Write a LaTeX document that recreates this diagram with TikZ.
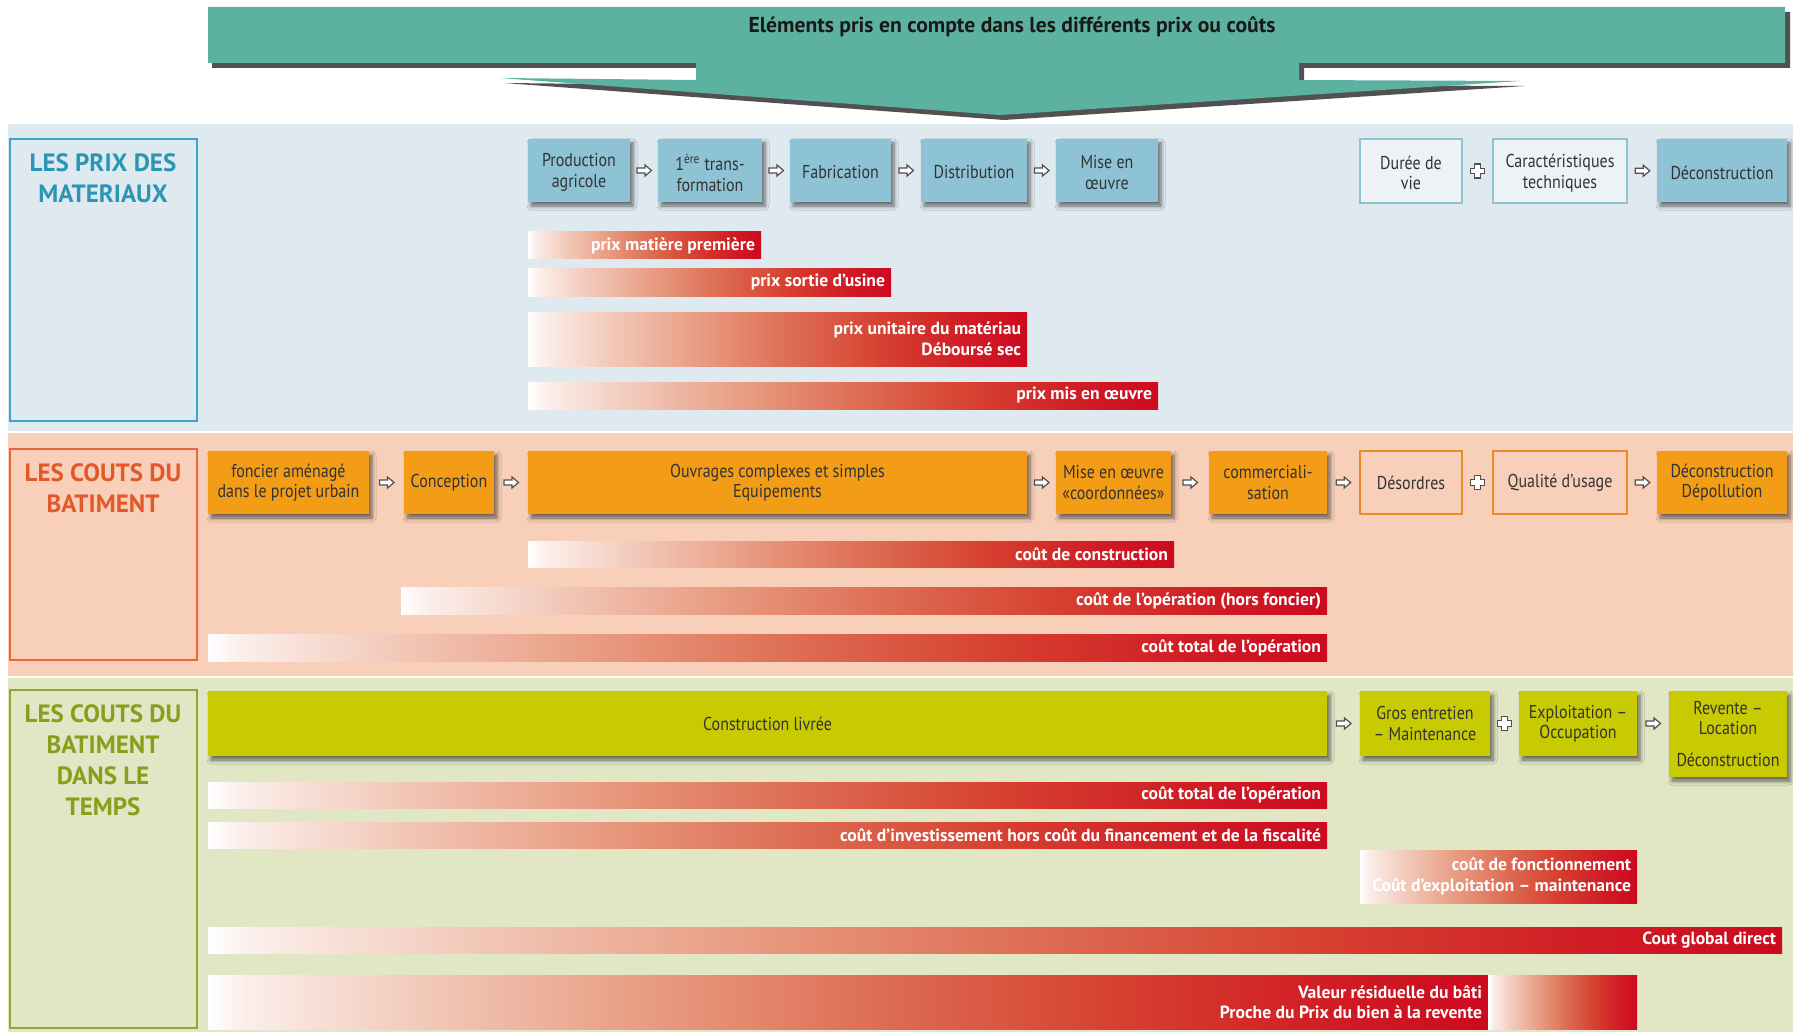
\documentclass[tikz,border=0pt]{standalone}
\usepackage{fontspec}
\setmainfont[FakeStretch=0.86]{PT Sans}
\newfontfamily\widefont{PT Sans}
\usetikzlibrary{fit,calc,shadows.blur}

\definecolor{bannerteal}{HTML}{5DB1A1}
\definecolor{matbg}{HTML}{DFE9F0}
\definecolor{batbg}{HTML}{F8D0B9}
\definecolor{tpsbg}{HTML}{E1E6C5}
\definecolor{matblue}{HTML}{8EC3D6}
\definecolor{matline}{HTML}{3FA6C2}
\definecolor{mattext}{HTML}{2B96B3}
\definecolor{batorange}{HTML}{F39C15}
\definecolor{batline}{HTML}{E8663C}
\definecolor{battext}{HTML}{E2582A}
\definecolor{openline}{HTML}{EC8A2A}
\definecolor{tpsgreen}{HTML}{C8CB02}
\definecolor{tpsline}{HTML}{8FA72A}
\definecolor{tpstext}{HTML}{8A9E1A}
\definecolor{boxtext}{HTML}{333333}
\definecolor{symgray}{HTML}{505050}
\definecolor{fadeA}{HTML}{FBEEEA}
\definecolor{fadeB}{HTML}{F2C8B8}
\definecolor{fadeC}{HTML}{E89A80}
\definecolor{fadeD}{HTML}{DD6C52}
\definecolor{fadeE}{HTML}{D64030}
\definecolor{fadeF}{HTML}{D01A24}
\definecolor{barred}{HTML}{CD0A1F}

% white to red, the way the price bars fade in
\pgfdeclarehorizontalshading{redfade}{100bp}{color(0bp)=(white); color(25bp)=(white);
  color(26.5bp)=(fadeA); color(33.5bp)=(fadeB); color(42.5bp)=(fadeC); color(51.5bp)=(fadeD);
  color(60.5bp)=(fadeE); color(69.5bp)=(fadeF); color(75bp)=(barred); color(100bp)=(barred)}

\begin{document}
\begin{tikzpicture}[x=0.5pt,y=-0.5pt,
    txt/.style={font=\fontsize{9.3}{10.2}\selectfont,text=boxtext,align=center,inner sep=0},
    box/.style={fill=#1,inner sep=0,blur shadow={shadow xshift=1.5pt,shadow yshift=-2pt,shadow blur steps=5,shadow opacity=55}},
    openbox/.style={draw=#1,line width=1pt,inner sep=0},
    tagbox/.style={draw=#1,line width=1pt,inner sep=0},
    tagtext/.style={font=\widefont\fontsize{12.5}{15.5}\selectfont\bfseries,text=#1,align=center,inner sep=0,anchor=north},
    bar/.style={shade,shading=redfade,inner sep=0},
    bartxt/.style={font=\widefont\fontsize{8.8}{10.3}\selectfont\bfseries,text=white,align=right,anchor=east,inner xsep=3pt,inner ysep=0},
    harrow/.pic={\draw[symgray,fill=white,line width=.6pt,line join=miter]
       (-7,-2.5) -- (1,-2.5) -- (1,-5.5) -- (7.5,0) -- (1,5.5) -- (1,2.5) -- (-7,2.5) -- cycle;},
    hplus/.pic={\draw[symgray,fill=white,line width=.6pt]
       (-2.8,-7) -- (2.8,-7) -- (2.8,-2.8) -- (7,-2.8) -- (7,2.8) -- (2.8,2.8) -- (2.8,7)
       -- (-2.8,7) -- (-2.8,2.8) -- (-7,2.8) -- (-7,-2.8) -- (-2.8,-2.8) -- cycle;}]
  \useasboundingbox (0,0) rectangle (1793,1032);

  % banner
  \fill[black!80,opacity=.85] (212,12) -- (1790,12) -- (1790,68) -- (1304,68) -- (1304,85) -- (1525,86)
     -- (1004,120) -- (504,83) -- (701,85) -- (701,68) -- (212,68) -- cycle;
  \fill[bannerteal] (208,7) -- (1785,7) -- (1785,63) -- (1299,63) -- (1299,80) -- (1520,81)
     -- (1000,115) -- (500,78) -- (696,80) -- (696,63) -- (208,63) -- cycle;
  \node[font=\widefont\fontsize{10.8}{12}\selectfont\bfseries,text=black!90] (head) at (1012,27)
     {Eléments pris en compte dans les différents prix ou coûts};

  % bands
  \fill[matbg] (8,124) rectangle (1793,431);
  \fill[batbg] (8,433) rectangle (1793,676);
  \fill[tpsbg] (8,678) rectangle (1793,1032);

  \node[tagbox=matline,fit={(10,139) (197,421)}] (lab1) {};
  \node[tagtext=mattext] (lab1t) at (103,153) {LES PRIX DES\\MATERIAUX};
  \node[tagbox=batline,fit={(10,449) (197,660)}] (lab2) {};
  \node[tagtext=battext] (lab2t) at (103,463) {LES COUTS DU\\BATIMENT};
  \node[tagbox=tpsline,fit={(10,690) (197,1028)}] (lab3) {};
  \node[tagtext=tpstext] (lab3t) at (103,704) {LES COUTS DU\\BATIMENT\\DANS LE\\TEMPS};

  % materiaux
  \node[box=matblue,fit={(528,139) (630,202)}] (prod) {};    \node[txt] (prodt) at ([yshift=-1pt]prod) {Production\\agricole};
  \node[box=matblue,fit={(658,139) (762,202)}] (trans) {};   \node[txt] (transt) at ([yshift=-1pt]trans) {1\textsuperscript{ère} trans-\\formation};
  \node[box=matblue,fit={(790,139) (891,202)}] (fab) {};     \node[txt] (fabt) at ([yshift=-1pt]fab) {Fabrication};
  \node[box=matblue,fit={(921,139) (1027,202)}] (dist) {};   \node[txt] (distt) at ([yshift=-1pt]dist) {Distribution};
  \node[box=matblue,fit={(1056,139) (1158,202)}] (mise) {};  \node[txt] (miset) at ([yshift=-1pt]mise) {Mise en\\œuvre};
  \node[openbox=matblue,fill=matbg!60!white,fit={(1360,139) (1462,203)}] (duree) {};
  \node[txt] (dureet) at ([yshift=-1pt]duree) {Durée de\\vie};
  \node[openbox=matblue,fill=matbg!60!white,fit={(1493,139) (1627,203)}] (carac) {};
  \node[txt] (caract) at ([yshift=-1pt]carac) {Caractéristiques\\techniques};
  \node[box=matblue,fit={(1657,139) (1787,202)}] (decon) {}; \node[txt] (decont) at ([yshift=-1pt]decon) {Déconstruction};
  \pic at ($(prod.east)!.5!(trans.west)$) {harrow};
  \pic at ($(trans.east)!.5!(fab.west)$) {harrow};
  \pic at ($(fab.east)!.5!(dist.west)$) {harrow};
  \pic at ($(dist.east)!.5!(mise.west)$) {harrow};
  \pic at ($(duree.east)!.5!(carac.west)$) {hplus};
  \pic at ($(carac.east)!.5!(decon.west)$) {harrow};

  \node[bar,fit={(528,232) (761,259)}] (b11) {};
  \node[bartxt] (b11t) at (b11.east) {prix matière première};
  \node[bar,fit={(528,269) (891,296)}] (b12) {};
  \node[bartxt] (b12t) at (b12.east) {prix sortie d’usine};
  \node[bar,fit={(528,312) (1027,366)}] (b13) {};
  \node[bartxt] (b13t) at (b13.east) {prix unitaire du matériau\\Déboursé sec};
  \node[bar,fit={(528,382) (1158,409)}] (b14) {};
  \node[bartxt] (b14t) at (b14.east) {prix mis en œuvre};

  % batiment
  \node[box=batorange,fit={(208,451) (369,514)}] (fonc) {};   \node[txt] (font) at (fonc) {foncier aménagé\\dans le projet urbain};
  \node[box=batorange,fit={(404,451) (494,514)}] (conc) {};   \node[txt] (conct) at (conc) {Conception};
  \node[box=batorange,fit={(528,451) (1027,514)}] (ouv) {};   \node[txt] (ouvt) at (ouv) {Ouvrages complexes et simples\\Equipements};
  \node[box=batorange,fit={(1056,451) (1171,514)}] (misec) {}; \node[txt] (misect) at (misec) {Mise en œuvre\\«coordonnées»};
  \node[box=batorange,fit={(1209,451) (1327,514)}] (comm) {}; \node[txt] (commt) at (comm) {commerciali-\\sation};
  \node[openbox=openline,fit={(1360,451) (1462,514)}] (deso) {}; \node[txt] (desot) at (deso) {Désordres};
  \node[openbox=openline,fit={(1493,451) (1627,514)}] (qual) {}; \node[txt] (qualt) at (qual) {Qualité d’usage};
  \node[box=batorange,fit={(1657,451) (1787,514)}] (depol) {}; \node[txt] (depolt) at (depol) {Déconstruction\\Dépollution};
  \pic at ($(fonc.east)!.5!(conc.west)$) {harrow};
  \pic at ($(conc.east)!.5!(ouv.west)$) {harrow};
  \pic at ($(ouv.east)!.5!(misec.west)$) {harrow};
  \pic at ($(misec.east)!.5!(comm.west)$) {harrow};
  \pic at ($(comm.east)!.5!(deso.west)$) {harrow};
  \pic at ($(deso.east)!.5!(qual.west)$) {hplus};
  \pic at ($(qual.east)!.5!(depol.west)$) {harrow};

  \node[bar,fit={(528,541) (1174,567)}] (b21) {};
  \node[bartxt] (b21t) at (b21.east) {coût de construction};
  \node[bar,fit={(401,587) (1327,614)}] (b22) {};
  \node[bartxt] (b22t) at (b22.east) {coût de l’opération (hors foncier)};
  \node[bar,fit={(208,634) (1327,661)}] (b23) {};
  \node[bartxt] (b23t) at (b23.east) {coût total de l’opération};

  % dans le temps
  \node[box=tpsgreen,fit={(208,691) (1327,756)}] (livr) {};   \node[txt] (livrt) at (livr) {Construction livrée};
  \node[box=tpsgreen,fit={(1360,691) (1490,756)}] (gros) {};  \node[txt] (grost) at (gros) {Gros entretien\\– Maintenance};
  \node[box=tpsgreen,fit={(1519,691) (1637,756)}] (expl) {};  \node[txt] (explt) at (expl) {Exploitation –\\Occupation};
  \node[box=tpsgreen,fit={(1669,691) (1787,777)}] (rev) {};   \node[txt] (revt) at (rev) {Revente –\\Location\\[6pt]Déconstruction};
  \pic at ($(livr.east)!.5!(gros.west)$) {harrow};
  \pic at ($(gros.east)!.5!(expl.west)$) {hplus};
  \pic at ($(expl.east)!.5!(expl.east -| rev.west)$) {harrow};

  \node[bar,fit={(208,782) (1327,808)}] (b31) {};
  \node[bartxt] (b31t) at (b31.east) {coût total de l’opération};
  \node[bar,fit={(208,822) (1327,848)}] (b32) {};
  \node[bartxt] (b32t) at (b32.east) {coût d’investissement hors coût du financement et de la fiscalité};
  \node[bar,fit={(1360,850) (1637,903)}] (b33) {};
  \node[bartxt] (b33t) at (b33.east) {coût de fonctionnement\\Coût d’exploitation – maintenance};
  \node[bar,fit={(208,927) (1782,953)}] (b34) {};
  \node[bartxt] (b34t) at (b34.east) {Cout global direct};
  \node[bar,fit={(208,975) (1488,1029)}] (b35) {};
  \node[bartxt] (b35t) at (b35.east) {Valeur résiduelle du bâti\\Proche du Prix du bien à la revente};
  \node[bar,fit={(1488,975) (1637,1029)}] (b36) {};
\end{tikzpicture}
\end{document}
